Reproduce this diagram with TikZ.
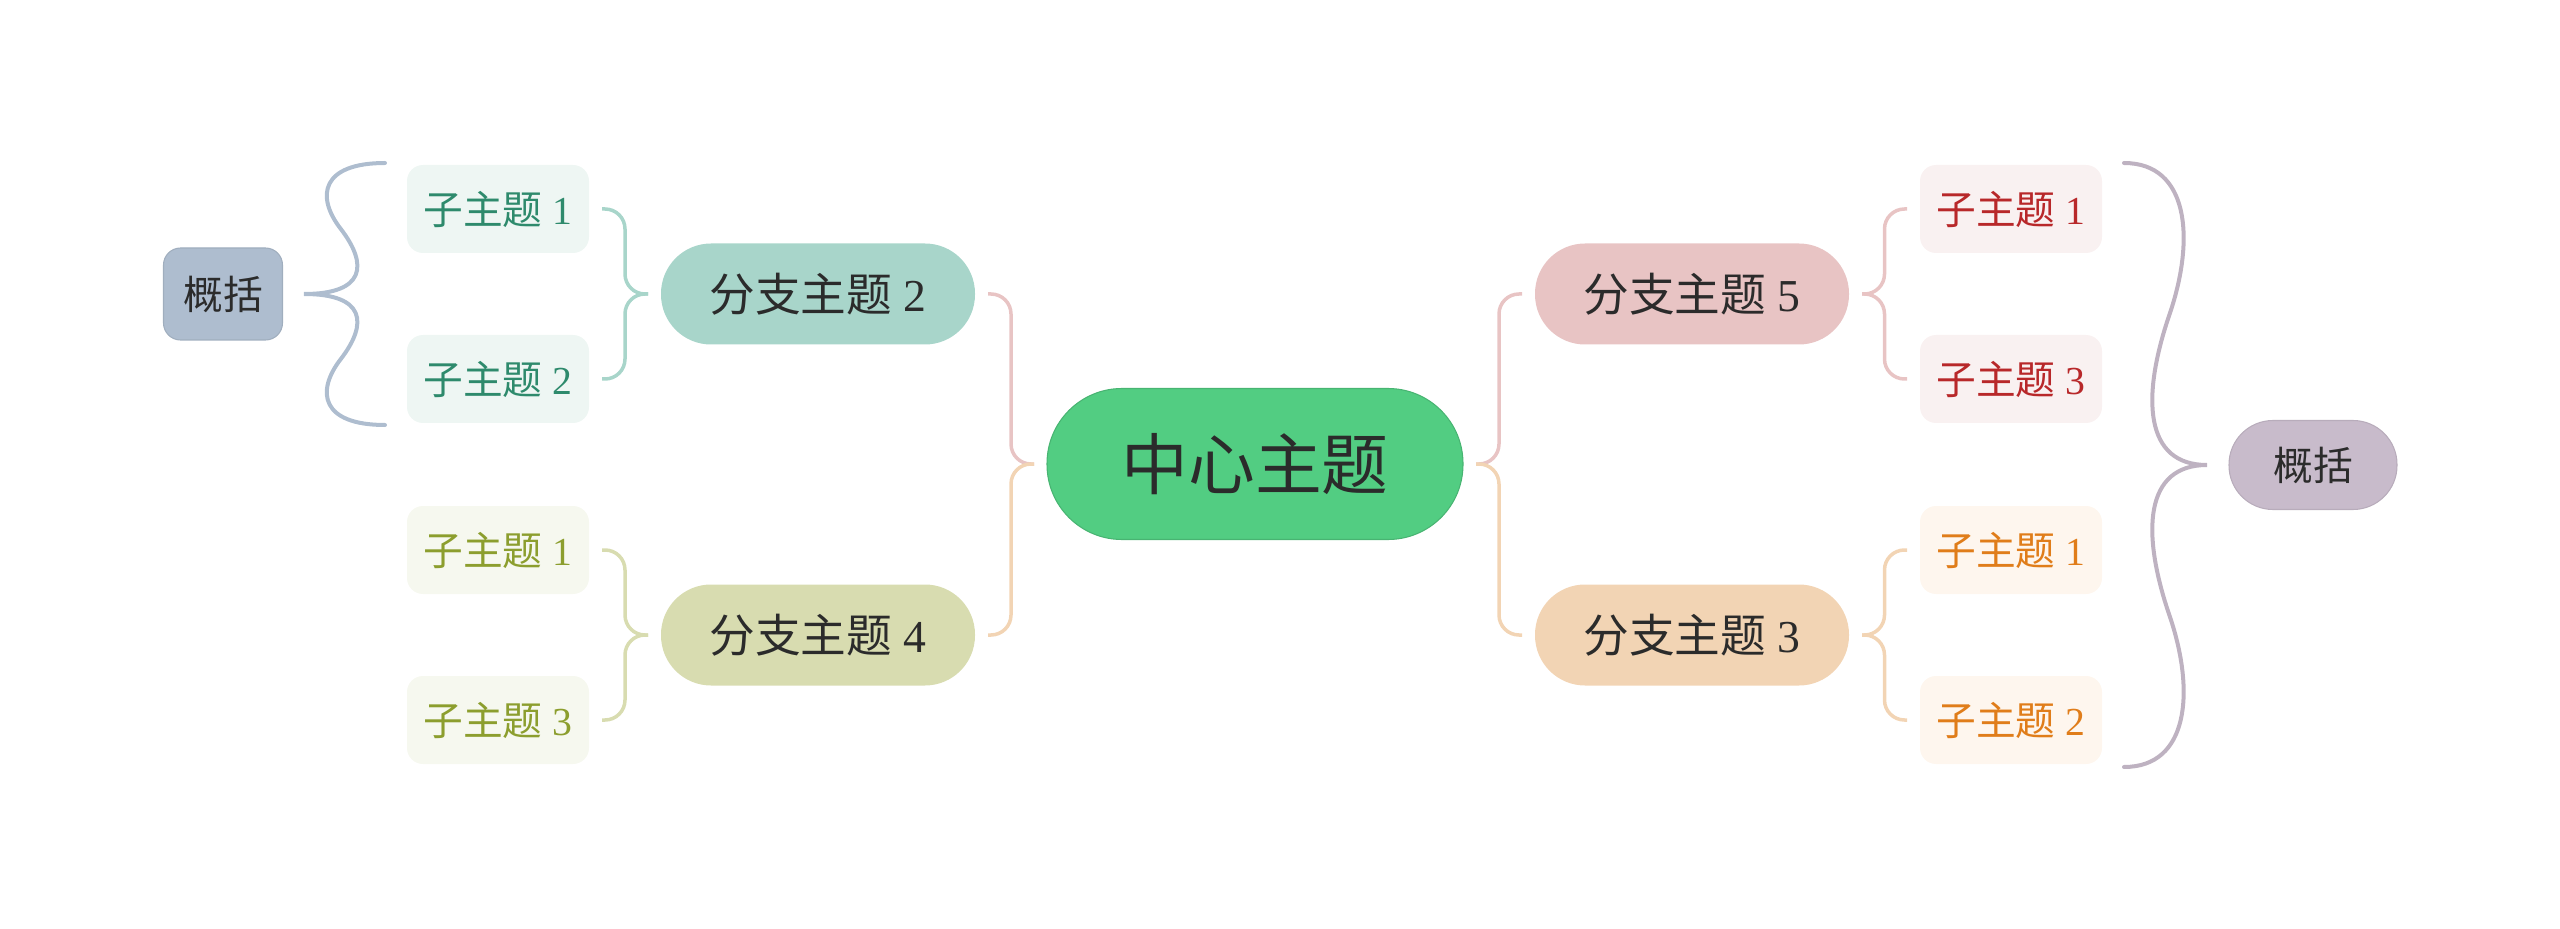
\documentclass[tikz,border=0pt]{standalone}
\usepackage{fontspec}
\setmainfont{Liberation Serif}
\newfontfamily\cjk{Noto Sans CJK SC}
\usetikzlibrary{calc}
\definecolor{txtcol}{HTML}{2B2B2B}
\definecolor{rootcol}{HTML}{52CD82}
\definecolor{tealcol}{HTML}{A8D5CA}
\definecolor{olivecol}{HTML}{D8DCB0}
\definecolor{rosecol}{HTML}{E8C4C4}
\definecolor{peachcol}{HTML}{F2D4B4}
\definecolor{tealbg}{HTML}{EEF6F3}
\definecolor{olivebg}{HTML}{F6F8EF}
\definecolor{rosebg}{HTML}{F9F1F1}
\definecolor{peachbg}{HTML}{FEF6EE}
\definecolor{tealtx}{HTML}{2E8A6C}
\definecolor{olivetx}{HTML}{8C9E2E}
\definecolor{rosetx}{HTML}{B8282A}
\definecolor{peachtx}{HTML}{E07D1A}
\definecolor{sumLcol}{HTML}{AEBDCF}
\definecolor{sumRcol}{HTML}{C8BBCB}
\tikzset{
  root/.style={rectangle,rounded corners=7.5mm,minimum width=41.6mm,minimum height=15.1mm,
    fill=rootcol,draw=rootcol!88!black,line width=0.3pt,text=txtcol,
    font=\fontsize{19}{22}\selectfont,outer sep=1.3mm},
  branch/.style={rectangle,rounded corners=5mm,minimum width=31.4mm,minimum height=10.1mm,
    text=txtcol,font=\fontsize{13}{15}\selectfont,outer sep=1.3mm},
  leaf/.style={rectangle,rounded corners=1.6mm,minimum width=18.2mm,minimum height=8.8mm,
    font=\fontsize{11.3}{13}\selectfont,outer sep=1.3mm},
  summary/.style={rectangle,text=txtcol,line width=0.3pt,font=\fontsize{11.3}{13}\selectfont},
  link/.style={line width=0.35mm,rounded corners=2mm},
  sumline/.style={line width=0.4mm,line cap=round}
}
% brace: colour, tip x, tip y, signed width, half height
\newcommand{\sumbrace}[5]{%
  \draw[sumline,#1] ({#2-(#4)},{#3-(#5)})
    .. controls ({#2-0.22*(#4)},{#3-(#5)}) and ({#2-0.14*(#4)},{#3-0.75*(#5)}) .. ({#2-0.45*(#4)},{#3-0.5*(#5)})
    .. controls ({#2-0.8*(#4)},{#3-0.22*(#5)}) and ({#2-0.75*(#4)},{#3}) .. (#2,#3)
    .. controls ({#2-0.75*(#4)},{#3}) and ({#2-0.8*(#4)},{#3+0.22*(#5)}) .. ({#2-0.45*(#4)},{#3+0.5*(#5)})
    .. controls ({#2-0.14*(#4)},{#3+0.75*(#5)}) and ({#2-0.22*(#4)},{#3+(#5)}) .. ({#2-(#4)},{#3+(#5)});}

\begin{document}
\begin{tikzpicture}[x=0.1mm,y=-0.1mm]
\useasboundingbox (0,0) rectangle (2560,929);
% ---- centre and branches ----
\node[root] (c) at (1255,464) {\cjk 中心主题};
\node[branch,fill=tealcol] (b2) at (818,294) {{\cjk 分支主题} 2};
\node[branch,fill=olivecol] (b4) at (818,635) {{\cjk 分支主题} 4};
\node[branch,fill=rosecol] (b5) at (1692,294) {{\cjk 分支主题} 5};
\node[branch,fill=peachcol] (b3) at (1692,635) {{\cjk 分支主题} 3};
% ---- sub topics ----
\foreach \n/\y/\k in {l1/209/1,l2/379/2}
  \node[leaf,fill=tealbg,text=tealtx] (\n) at (498,\y) {{\cjk 子主题} \k};
\foreach \n/\y/\k in {l3/550/1,l4/720/3}
  \node[leaf,fill=olivebg,text=olivetx] (\n) at (498,\y) {{\cjk 子主题} \k};
\foreach \n/\y/\k in {r1/209/1,r2/379/3}
  \node[leaf,fill=rosebg,text=rosetx] (\n) at (2011,\y) {{\cjk 子主题} \k};
\foreach \n/\y/\k in {r3/550/1,r4/720/2}
  \node[leaf,fill=peachbg,text=peachtx] (\n) at (2011,\y) {{\cjk 子主题} \k};
% ---- links ----
\foreach \a/\b/\col in {c.west/b2.east/rosecol,c.west/b4.east/peachcol,
    c.east/b5.west/rosecol,c.east/b3.west/peachcol,
    b2.west/l1.east/tealcol,b2.west/l2.east/tealcol,
    b4.west/l3.east/olivecol,b4.west/l4.east/olivecol,
    b5.east/r1.west/rosecol,b5.east/r2.west/rosecol,
    b3.east/r3.west/peachcol,b3.east/r4.west/peachcol}{
  \draw[link,draw=\col] (\a) -| ($(\a)!.5!(\b)$) |- (\b);}
% ---- summaries ----
\node[summary,fill=sumLcol,draw=sumLcol!92!black,rounded corners=1.7mm,
  minimum width=11.9mm,minimum height=9.2mm] (s1) at (223,294) {\cjk 概括};
\node[summary,fill=sumRcol,draw=sumRcol!92!black,rounded corners=4.4mm,
  minimum width=16.8mm,minimum height=8.9mm] (s2) at (2313,465) {\cjk 概括};
\sumbrace{sumLcol}{304}{294}{-81}{131}
\sumbrace{sumRcol!95!black}{2207}{465}{83}{302}
\end{tikzpicture}
\end{document}
